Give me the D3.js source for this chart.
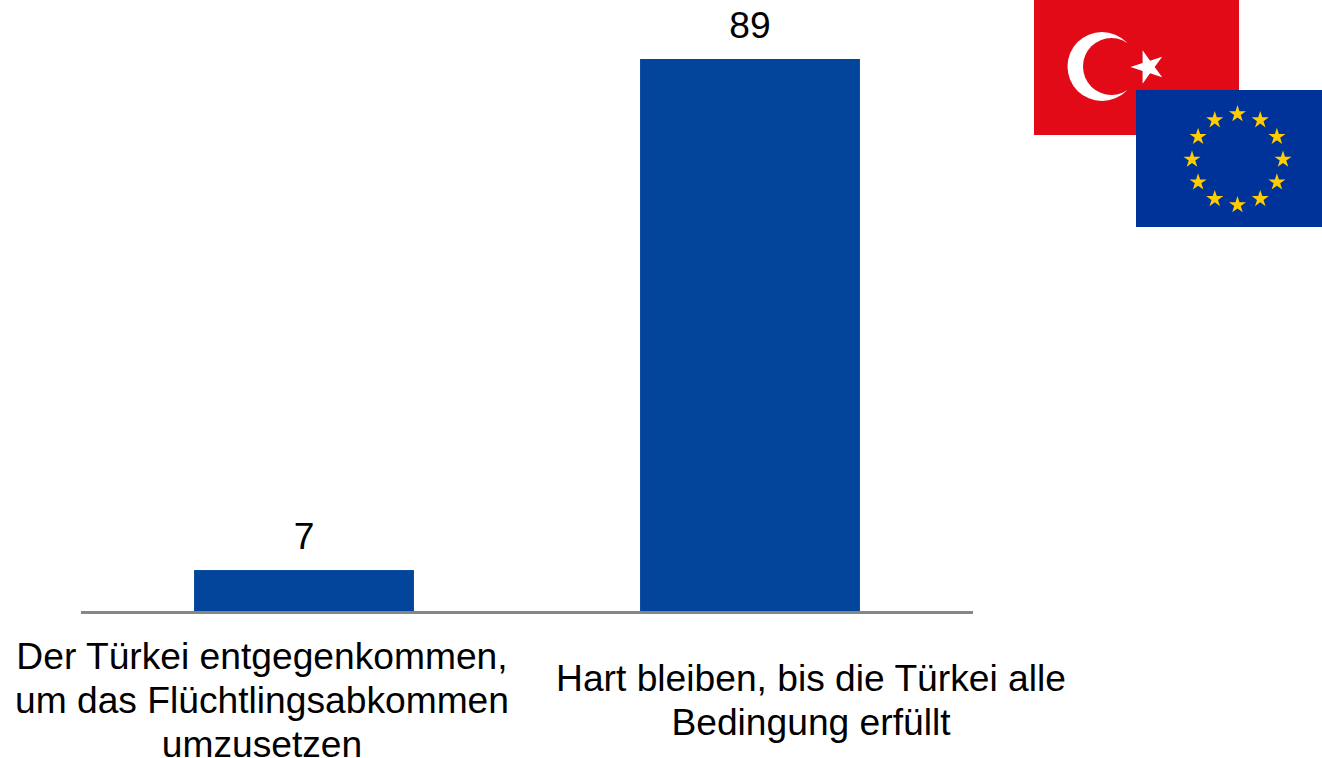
<!DOCTYPE html>
<html><head><meta charset="utf-8">
<script src="https://cdn.jsdelivr.net/npm/d3@7"></script>
<style>html,body{margin:0;padding:0;background:#fff;overflow:hidden}svg{display:block}text{font-family:"Liberation Sans",Arial,sans-serif;fill:#000}</style>
</head><body><svg id="c" width="1322" height="758"></svg>
<script>
const categoryLines = [
  ["Der Türkei entgegenkommen,", "um das Flüchtlingsabkommen", "umzusetzen"],
  ["Hart bleiben, bis die Türkei alle", "Bedingung erfüllt"]
];
const categories = ["Entgegenkommen", "Hart bleiben"];
const values = [6.6, 89];
const barColor = "#02459a";
const axisColor = "#868686";

const svg = d3.select("#c");
const x = d3.scaleBand().domain(categories).range([81, 973]).paddingInner(0.507).paddingOuter(0.2535);
const y = d3.scaleLinear().domain([0, 89]).range([611, 59]);
const fmt = d3.format(".0f");
const fontSize = 37.2, lineH = 44;

svg.selectAll("rect.bar").data(values).join("rect").attr("class", "bar")
  .attr("x", (d, i) => x(categories[i])).attr("width", x.bandwidth())
  .attr("y", d => y(d)).attr("height", d => y(0) - y(d)).attr("fill", barColor);

svg.append("line").attr("x1", 81).attr("x2", 973).attr("y1", 612.5).attr("y2", 612.5)
  .attr("stroke", axisColor).attr("stroke-width", 3);

svg.selectAll("text.val").data(values).join("text").attr("class", "val")
  .attr("x", (d, i) => x(categories[i]) + x.bandwidth() / 2)
  .attr("y", d => y(d) - 21).attr("text-anchor", "middle").attr("font-size", fontSize)
  .text(d => fmt(d));

const labelCenters = [262, 811];
const labelFirst = [669, 691];
categoryLines.forEach((lines, i) => {
  const t = svg.append("text").attr("text-anchor", "middle").attr("font-size", fontSize);
  lines.forEach((l, j) => t.append("tspan").attr("x", labelCenters[i]).attr("y", labelFirst[i] + j * lineH).text(l));
});

// Turkish flag
const flag = svg.append("g");
flag.append("rect").attr("x", 1034).attr("y", 0).attr("width", 205).attr("height", 135).attr("fill", "#e30a17");
flag.append("circle").attr("cx", 1102).attr("cy", 66.5).attr("r", 34.5).attr("fill", "#fff");
flag.append("circle").attr("cx", 1111.5).attr("cy", 66.5).attr("r", 28.5).attr("fill", "#e30a17");
const starSize = r => r * r / 0.8908;
flag.append("path").attr("d", d3.symbol(d3.symbolStar, starSize(17.5))())
  .attr("transform", "translate(1148,67) rotate(-90)").attr("fill", "#fff");

// EU flag
const eu = svg.append("g");
eu.append("rect").attr("x", 1136).attr("y", 90).attr("width", 186).attr("height", 137).attr("fill", "#003399");
eu.selectAll("path").data(d3.range(12)).join("path")
  .attr("d", d3.symbol(d3.symbolStar, starSize(9))())
  .attr("transform", d => {
    const a = d * Math.PI / 6;
    return `translate(${1237.5 + 45.5 * Math.sin(a)},${159.5 - 45.5 * Math.cos(a)})`;
  })
  .attr("fill", "#ffcc00");
</script></body></html>
